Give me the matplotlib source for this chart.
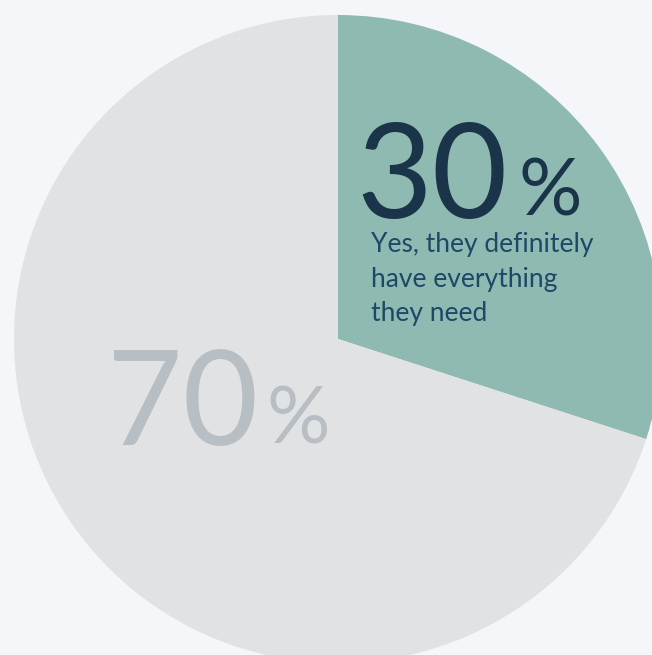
import matplotlib.pyplot as plt
from matplotlib import font_manager

# share of respondents
labels = ["Yes, they definitely have everything they need", "Other"]
shares = [30, 70]
colors = ["#8fbab1", "#e1e2e4"]
caption = ["Yes, they definitely", "have everything", "they need"]

BG = "#f4f6fa"
W, H = 652, 655

families = {f.name for f in font_manager.fontManager.ttflist}
FONT = "Lato" if "Lato" in families else "DejaVu Sans"

fig = plt.figure(figsize=(W / 100, H / 100), dpi=100, facecolor=BG)
ax = fig.add_axes([0, 0, 1, 1])

# pixel-space: centre (338, 339 from top), radius 324
ax.pie(shares, colors=colors, startangle=90, counterclock=False,
       center=(338, H - 339), radius=324, frame=True,
       wedgeprops=dict(linewidth=0))
ax.set_xlim(0, W)
ax.set_ylim(0, H)
ax.set_aspect("equal")
ax.axis("off")

# big number, yes slice
ax.text(508, H - 218, f"{shares[0]}", fontsize=94, color="#1a3449",
        family=FONT, weight="normal", va="baseline", ha="right")
ax.text(519, H - 216, "%", fontsize=57, color="#1a3449",
        family=FONT, weight="normal", va="baseline", ha="left")
for i, line in enumerate(caption):
    ax.text(371, H - 252 - i * 34.5, line, fontsize=19, color="#1f4767",
            family=FONT, weight="normal", va="baseline", ha="left")

# big number, remaining slice
ax.text(258, H - 445, f"{shares[1]}", fontsize=94, color="#b8bfc4",
        family=FONT, weight="normal", va="baseline", ha="right")
ax.text(267, H - 443, "%", fontsize=57, color="#b8bfc4",
        family=FONT, weight="normal", va="baseline", ha="left")

fig.savefig("out.png", dpi=100, facecolor=BG)
